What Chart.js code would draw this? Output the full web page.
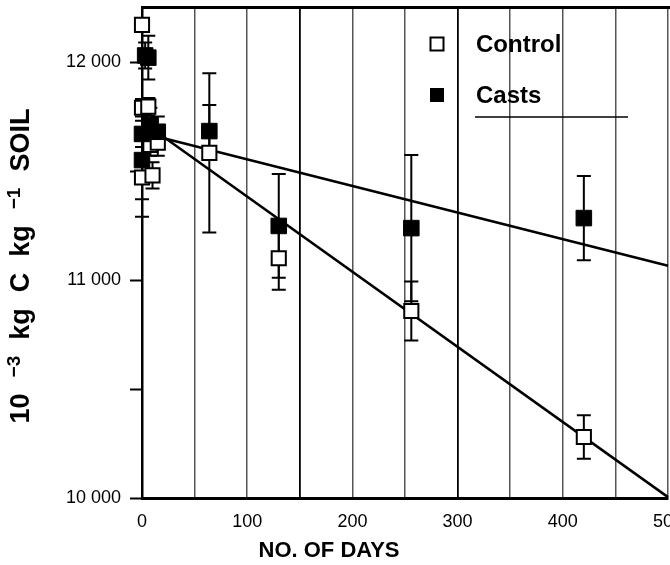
<!DOCTYPE html>
<html><head><meta charset="utf-8">
<script src="https://cdn.jsdelivr.net/npm/chart.js@4.4.1/dist/chart.umd.min.js"></script>
<style>html,body{margin:0;padding:0;background:#fff;overflow:hidden}#wrap{width:670px;height:565px;position:relative;overflow:hidden}</style>
</head><body><div id="wrap"><canvas id="c" width="690" height="565"></canvas></div>
<script>
// ---- data ----
const controlDays   = [0,     0,     6,     8,     15,    0,     10,    64,    130,   256,   420];
const controlValues = [12170, 11790, 11795, 11620, 11630, 11470, 11480, 11583, 11100, 10858, 10280];
const controlErrors = [0,     40,    40,    50,    60,    100,   60,    365,   145,   135,   100];

const castsDays   = [3,     6,     0,     8,     15,    0,     64,    130,   256,   420];
const castsValues = [12030, 12020, 11670, 11710, 11680, 11550, 11683, 11248, 11238, 11284];
const castsErrors = [60,    100,   60,    80,    70,    260,   120,   238,   335,   193];

const controlFitDays   = [15, 500];
const controlFitValues = [11675, 10004];
const castsFitDays     = [15, 500];
const castsFitValues   = [11657, 11065];

const xGridValues = [0, 50, 100, 150, 200, 250, 300, 350, 400, 450, 500];
const xTickValues = [0, 100, 200, 300, 400, 500];
const xTickLabels = ['0', '100', '200', '300', '400', '500'];
const yMarkValues = [10000, 10500, 11000, 11500, 12000];
const yTickValues = [10000, 11000, 12000];
const yTickLabels = ['10 000', '11 000', '12 000'];

const legendLabels = ['Control', 'Casts'];
const xTitle = 'NO. OF DAYS';
// y title pieces: [text, isSuperscript]
const yTitleParts = [['10', false], ['\u22123', true], ['kg', false], ['C', false], ['kg', false], ['\u22121', true], ['SOIL', false]];

const FONT = '"Liberation Sans", Arial, Helvetica, sans-serif';
const AREA = { top: 7.5, right: 668 };

function pts(xs, ys, es) { return xs.map((x, i) => ({x: x, y: ys[i], e: es ? es[i] : 0})); }

const fixArea = {
  id: 'fixArea',
  afterLayout(chart) {
    const a = chart.chartArea, xs = chart.scales.x, ys = chart.scales.y;
    a.top = AREA.top; a.right = AREA.right;
    a.width = a.right - a.left; a.height = a.bottom - a.top;
    ys.top = AREA.top; ys.height = ys.bottom - ys.top; ys.configure();
    xs.right = AREA.right; xs.width = xs.right - xs.left; xs.configure();
  }
};

const errorBars = {
  id: 'errorBars',
  beforeDatasetsDraw(chart) {
    const ctx = chart.ctx, xs = chart.scales.x, ys = chart.scales.y;
    ctx.save();
    ctx.strokeStyle = '#000';
    ctx.lineWidth = 2;
    chart.data.datasets.forEach(ds => {
      if (!ds.errorBars) return;
      ds.data.forEach(p => {
        if (!p.e) return;
        const px = xs.getPixelForValue(p.x);
        const y1 = ys.getPixelForValue(p.y - p.e), y2 = ys.getPixelForValue(p.y + p.e);
        ctx.beginPath();
        ctx.moveTo(px, y1); ctx.lineTo(px, y2);
        ctx.moveTo(px - 7, y1); ctx.lineTo(px + 7, y1);
        ctx.moveTo(px - 7, y2); ctx.lineTo(px + 7, y2);
        ctx.stroke();
      });
    });
    ctx.restore();
  }
};

const decor = {
  id: 'decor',
  afterDraw(chart) {
    const ctx = chart.ctx, a = chart.chartArea;
    ctx.save();
    // top frame line
    ctx.strokeStyle = '#000';
    ctx.lineWidth = 3;
    ctx.beginPath();
    ctx.moveTo(a.left - 1, a.top); ctx.lineTo(chart.width, a.top);
    ctx.stroke();
    // legend
    ctx.fillStyle = '#fff';
    ctx.lineWidth = 2;
    ctx.fillRect(430.5, 37.5, 13, 13);
    ctx.strokeRect(430.5, 37.5, 13, 13);
    ctx.fillStyle = '#000';
    ctx.fillRect(430, 88, 14, 14);
    ctx.font = 'bold 24px ' + FONT;
    ctx.textBaseline = 'middle';
    ctx.textAlign = 'left';
    ctx.fillText(legendLabels[0], 476, 45);
    ctx.fillText(legendLabels[1], 476, 96);
    ctx.lineWidth = 1.5;
    ctx.beginPath();
    ctx.moveTo(475, 117); ctx.lineTo(628, 117);
    ctx.stroke();
    // x title
    ctx.font = 'bold 22px ' + FONT;
    ctx.textAlign = 'center';
    ctx.fillText(xTitle, 329, 551);
    // y title (rotated, with superscripts)
    const big = 'bold 27px ' + FONT, small = 'bold 19px ' + FONT, gap = 16;
    let total = 0;
    yTitleParts.forEach((p, i) => { ctx.font = p[1] ? small : big; total += ctx.measureText(p[0]).width + (i ? gap : 0); });
    ctx.translate(22, 266);
    ctx.rotate(-Math.PI / 2);
    ctx.textAlign = 'left';
    let x = -total / 2;
    yTitleParts.forEach((p, i) => {
      ctx.font = p[1] ? small : big;
      ctx.fillText(p[0], x, p[1] ? -7 : 0);
      x += ctx.measureText(p[0]).width + gap;
    });
    ctx.restore();
  }
};

new Chart(document.getElementById('c'), {
  type: 'scatter',
  data: {
    datasets: [
      { label: 'Casts', data: pts(castsDays, castsValues, castsErrors), errorBars: true,
        pointStyle: 'rect', pointRadius: 11, backgroundColor: '#000', borderColor: '#000', borderWidth: 1, clip: false },
      { label: 'Control', data: pts(controlDays, controlValues, controlErrors), errorBars: true,
        pointStyle: 'rect', pointRadius: 10, backgroundColor: '#fff', borderColor: '#000', borderWidth: 2, clip: false },
      { label: 'Casts fit', data: pts(castsFitDays, castsFitValues), showLine: true, pointRadius: 0,
        borderColor: '#000', borderWidth: 2.5, clip: false },
      { label: 'Control fit', data: pts(controlFitDays, controlFitValues), showLine: true, pointRadius: 0,
        borderColor: '#000', borderWidth: 2.5, clip: false }
    ]
  },
  options: {
    responsive: false,
    animation: false,
    devicePixelRatio: 1,
    layout: { autoPadding: false, padding: { top: 7.5, right: 22, bottom: 0, left: 0 } },
    plugins: { legend: { display: false }, tooltip: { enabled: false } },
    scales: {
      x: {
        type: 'linear', min: 0, max: 500,
        afterBuildTicks: s => { s.ticks = xGridValues.map(v => ({value: v})); },
        ticks: {
          padding: 13, color: '#000', maxRotation: 0, autoSkip: false,
          font: { family: FONT, size: 18 },
          callback: v => { const i = xTickValues.indexOf(Math.round(v)); return i >= 0 ? xTickLabels[i] : ''; }
        },
        grid: {
          drawTicks: false,
          color: c => (c.tick && c.tick.value === 0) ? 'rgba(0,0,0,0)' : ((c.tick && (c.tick.value === 150 || c.tick.value === 300)) ? '#000' : '#555'),
          lineWidth: c => (c.tick && (c.tick.value === 150 || c.tick.value === 300)) ? 1.8 : 1.5
        },
        border: { display: true, color: '#000', width: 3 },
        afterFit: s => { s.height = 67; }
      },
      y: {
        type: 'linear', min: 10000, max: 12250,
        afterBuildTicks: s => { s.ticks = yMarkValues.map(v => ({value: v})); },
        ticks: {
          padding: 9, color: '#000',
          font: { family: FONT, size: 18 },
          callback: v => { const i = yTickValues.indexOf(Math.round(v)); return i >= 0 ? yTickLabels[i] : ''; }
        },
        grid: { drawOnChartArea: false, drawTicks: true, tickLength: 12, tickColor: '#000', tickWidth: 2 },
        border: { display: true, color: '#000', width: 2.5 },
        title: { display: false },
        afterFit: s => { s.width = 142; }
      }
    }
  },
  plugins: [fixArea, errorBars, decor]
});
</script>
</body></html>
